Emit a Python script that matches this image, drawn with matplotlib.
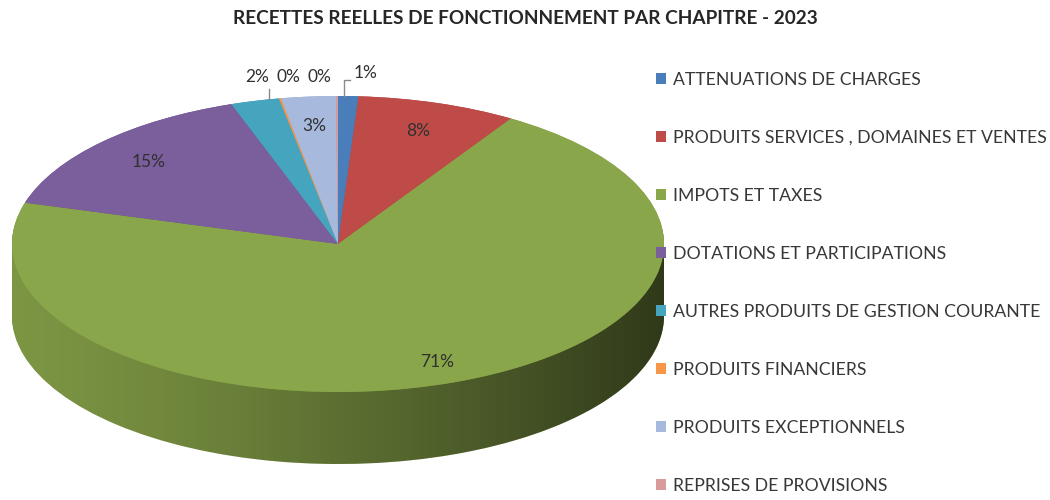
import numpy as np
import matplotlib
matplotlib.use("Agg")
import matplotlib.pyplot as plt
from matplotlib.path import Path
from matplotlib.patches import PathPatch
from matplotlib.colors import to_rgb

plt.rcParams['font.family'] = ['Lato', 'DejaVu Sans']

# data (shares in % of total)
categories = [
    "ATTENUATIONS DE CHARGES",
    "PRODUITS SERVICES , DOMAINES ET VENTES",
    "IMPOTS ET TAXES",
    "DOTATIONS ET PARTICIPATIONS",
    "AUTRES PRODUITS DE GESTION COURANTE",
    "PRODUITS FINANCIERS",
    "PRODUITS EXCEPTIONNELS",
    "REPRISES DE PROVISIONS",
]
shares = [1.0, 7.9, 70.6, 15.2, 2.4, 0.1, 2.7, 0.1]
title = "RECETTES REELLES DE FONCTIONNEMENT PAR CHAPITRE - 2023"

colors = ['#4A7EBB', '#BE4B48', '#8AA64A', '#7B5E9C',
          '#45A5BE', '#F79646', '#A7B9DD', '#D99A9C']

W, H = 1050, 500
cx, cy = 338, 244      # pie centre in pixels (from top-left)
rx, ry = 326, 148      # ellipse radii in pixels
depth = 72 / ry        # thickness of the 3d side, in data units


def px(x, y):
    # pixel position -> data position
    return (x - cx) / rx, (cy - y) / ry


fig = plt.figure(figsize=(W / 100, H / 100), dpi=100)
ax = fig.add_axes([0, 0, 1, 1])

# side of the 3d pie: stacked, darker copies of the pie
side_colors = [tuple(c * 0.9 for c in to_rgb(col)) for col in colors]
for d in np.linspace(depth, 0, 60):
    ax.pie(shares, colors=side_colors, radius=1, center=(0, -d),
           startangle=90, counterclock=False,
           wedgeprops=dict(linewidth=0))

# horizontal shading on the side wall
t = np.linspace(np.pi, 2 * np.pi, 200)
verts = np.vstack([np.column_stack([np.cos(t), np.sin(t) - depth]),
                   np.column_stack([np.cos(t[::-1]), np.sin(t[::-1])])])
side_path = PathPatch(Path(verts, closed=True), facecolor='none', edgecolor='none')
ax.add_patch(side_path)
g = np.linspace(0, 1, 256)
shade = np.zeros((1, 256, 4))
shade[..., 3] = 0.62 * g ** 1.3
im = ax.imshow(shade, extent=(-1, 1, -1 - depth, 0), aspect='auto',
               interpolation='bilinear', zorder=1.5)
im.set_clip_path(side_path)

# top face
wedges, _ = ax.pie(shares, colors=colors, radius=1, center=(0, 0),
                   startangle=90, counterclock=False,
                   wedgeprops=dict(linewidth=0, zorder=2))

ax.set_aspect('auto')
ax.set_xlim(-cx / rx, (W - cx) / rx)
ax.set_ylim(-(H - cy) / ry, cy / ry)
ax.axis('off')

# labels inside the large slices
for w, v in zip(wedges, shares):
    if v < 2.5:
        continue
    a = np.deg2rad((w.theta1 + w.theta2) / 2)
    r = 0.85 if v > 50 else 0.8
    ax.text(r * np.cos(a), r * np.sin(a), f"{v:.0f}%",
            ha='center', va='center', fontsize=12.5, color='#303030', zorder=5)

# small slices: labels above the pie
outside = {4: (257, 77), 5: (288, 77), 7: (319, 77), 0: (366, 73)}
for i, pos in outside.items():
    ax.text(*px(*pos), f"{shares[i]:.0f}%", ha='center', va='center',
            fontsize=12.5, color='#303030', zorder=5)

# leader lines
w = wedges[4]
a = np.deg2rad(w.theta1 + 0.2 * (w.theta2 - w.theta1))
x0, y0 = np.cos(a), np.sin(a)
ax.plot([x0, x0], [y0, px(0, 89)[1]], color='#8a8a8a', lw=1, zorder=5)
w = wedges[0]
a = np.deg2rad(w.theta2 - 0.3 * (w.theta2 - w.theta1))
x0, y0 = np.cos(a), np.sin(a)
ytop = px(0, 80)[1]
ax.plot([x0, x0, x0 + 6 / rx], [y0, ytop, ytop], color='#8a8a8a', lw=1, zorder=5)

fig.text(525 / W, 1 - 18 / H, title, ha='center', va='center',
         fontsize=13.7, fontweight='bold', color='#262626')

fig.legend(wedges, categories, loc='upper left',
           bbox_to_anchor=(656 / W, 1 - 72 / H), frameon=False,
           handlelength=0.55, handleheight=0.55, handletextpad=0.4,
           labelspacing=2.38, fontsize=12.7, labelcolor='#383838',
           borderaxespad=0, borderpad=0)

fig.savefig("out.png", dpi=100)
